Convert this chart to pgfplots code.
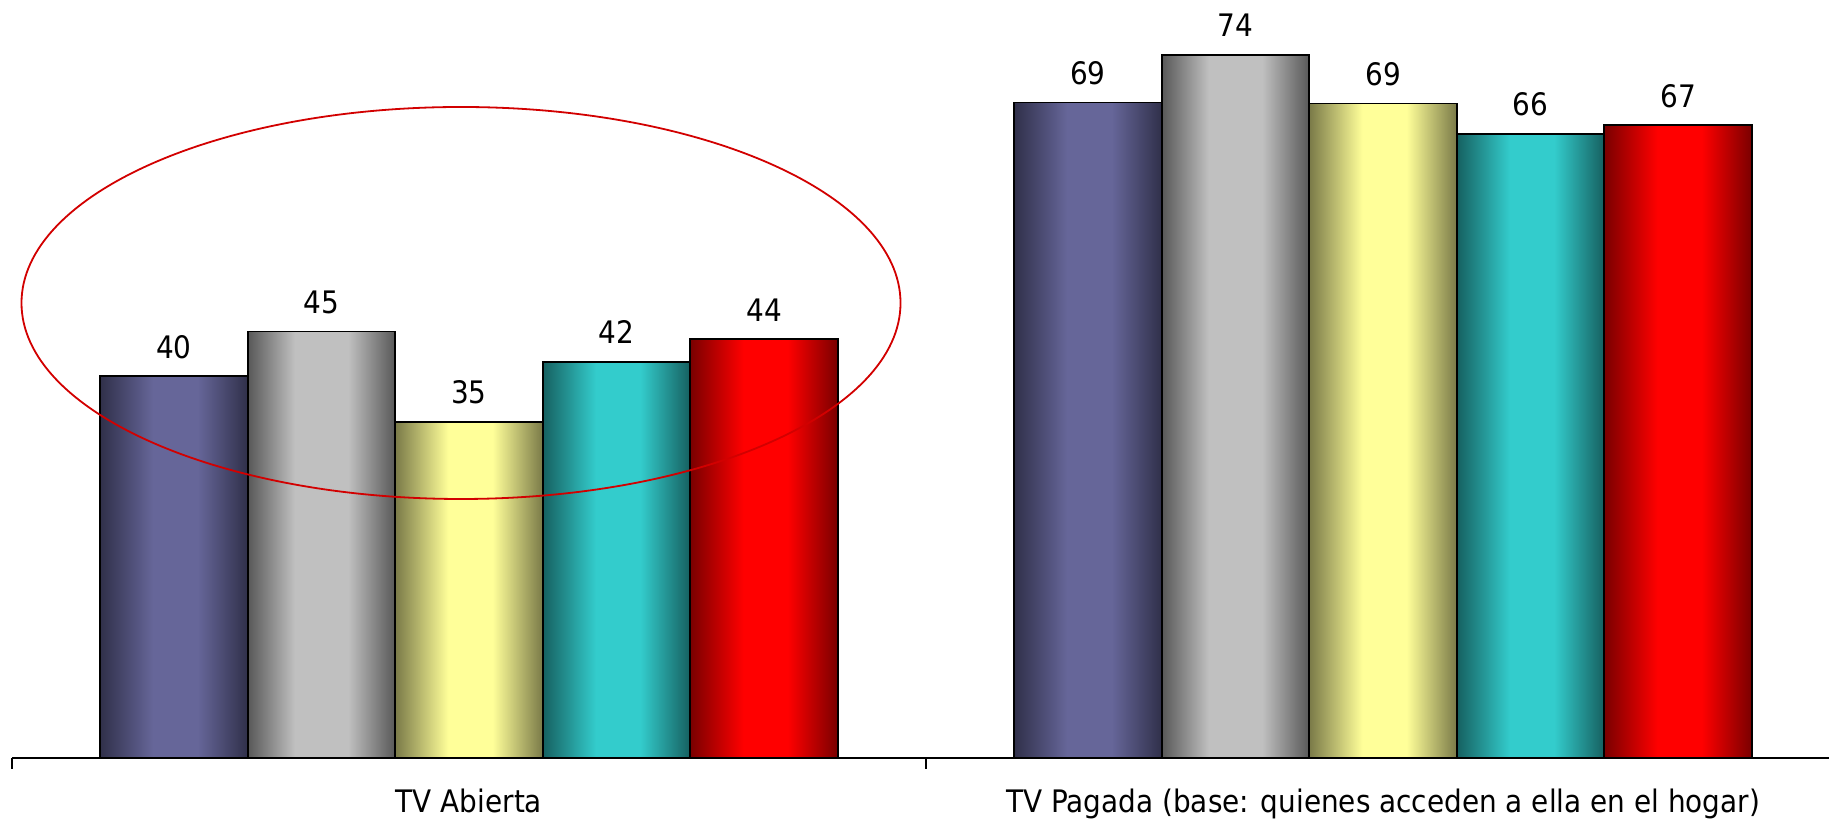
\documentclass[border=0pt]{standalone}
\usepackage{fontspec}
\setmainfont[FakeStretch=0.9]{DejaVu Sans}
\usepackage{pgfplots}
\pgfplotsset{compat=1.18}

% bar colours: dark edge / light centre
\definecolor{blueD}{RGB}{48,48,74}
\definecolor{blueL}{RGB}{102,102,153}
\definecolor{grayD}{RGB}{88,88,88}
\definecolor{grayL}{RGB}{192,192,192}
\definecolor{yelD}{RGB}{122,122,72}
\definecolor{yelL}{RGB}{255,255,153}
\definecolor{tealD}{RGB}{22,96,96}
\definecolor{tealL}{RGB}{51,204,204}
\definecolor{redD}{RGB}{122,0,0}
\definecolor{redL}{RGB}{255,0,0}
\definecolor{ringred}{RGB}{210,0,0}

% TikZ maps 25bp..75bp of a shading onto the path's box
\pgfdeclarehorizontalshading{barblue}{100bp}{color(0bp)=(blueD); color(25bp)=(blueD); color(43bp)=(blueL); color(58bp)=(blueL); color(75bp)=(blueD); color(100bp)=(blueD)}
\pgfdeclarehorizontalshading{bargray}{100bp}{color(0bp)=(grayD); color(25bp)=(grayD); color(41bp)=(grayL); color(59bp)=(grayL); color(75bp)=(grayD); color(100bp)=(grayD)}
\pgfdeclarehorizontalshading{baryel}{100bp}{color(0bp)=(yelD); color(25bp)=(yelD); color(43bp)=(yelL); color(58bp)=(yelL); color(75bp)=(yelD); color(100bp)=(yelD)}
\pgfdeclarehorizontalshading{barteal}{100bp}{color(0bp)=(tealD); color(25bp)=(tealD); color(43bp)=(tealL); color(58bp)=(tealL); color(75bp)=(tealD); color(100bp)=(tealD)}
\pgfdeclarehorizontalshading{barred}{100bp}{color(0bp)=(redD); color(25bp)=(redD); color(43bp)=(redL); color(58bp)=(redL); color(75bp)=(redD); color(100bp)=(redD)}

% one bar per \addplot (each at its own x) so that every bar gets its own gradient
\pgfplotsset{
    tvbar/.style = {ybar, bar width=0.1614, bar shift=0pt,
        draw=black, line width=0.85pt, shading=#1},
}

\begin{document}
\begin{tikzpicture}
    \begin{axis}[
        at = {(6pt,32.5pt)},
        anchor = south west,
        scale only axis,
        width = 914pt,
        height = 379pt,
        xmin = -0.5, xmax = 1.5,
        ymin = 0, ymax = 79.79,
        clip = false,
        axis x line* = bottom,
        axis y line = none,
        x axis line style = {line width=1pt},
        xtick = {0,1},
        xticklabels = {TV Abierta, TV Pagada (base: quienes acceden a ella en el hogar)},
        major tick length = 0pt,
        minor xtick = {-0.5,0.5,1.5},
        minor tick length = 5.5pt,
        tick align = outside,
        minor x tick style = {line width=0.6pt, black},
        xticklabel style = {font=\fontsize{15.5}{18}\selectfont, anchor=base, inner sep=0pt, yshift=-27.5pt},
        /pgf/number format/assume math mode=true,
        /pgf/number format/.cd, fixed, precision=0, /pgfplots/.cd,
        nodes near coords,
        every node near coord/.append style = {font=\fontsize{15.5}{18}\selectfont, black, inner sep=0pt, anchor=base, yshift=9pt},
    ]
        % TV Abierta
        \addplot[tvbar=barblue] coordinates {(-0.3228,40.2)};
        \addplot[tvbar=bargray] coordinates {(-0.1614,44.9)};
        \addplot[tvbar=baryel]  coordinates {(0.0000,35.4)};
        \addplot[tvbar=barteal] coordinates {(0.1614,41.7)};
        \addplot[tvbar=barred]  coordinates {(0.3228,44.1)};
        % TV Pagada
        \addplot[tvbar=barblue] coordinates {(0.6772,69.0)};
        \addplot[tvbar=bargray] coordinates {(0.8386,74.0)};
        \addplot[tvbar=baryel]  coordinates {(1.0000,68.9)};
        \addplot[tvbar=barteal] coordinates {(1.1614,65.7)};
        \addplot[tvbar=barred]  coordinates {(1.3228,66.6)};
    \end{axis}
    % highlight ring round the open-TV group
    \draw[ringred, line width=0.9pt] (230.5pt,260pt) ellipse [x radius=219.75pt, y radius=98pt];
    \pgfresetboundingbox
    \useasboundingbox (0,0) rectangle (914.5pt,411.5pt);
\end{tikzpicture}
\end{document}
